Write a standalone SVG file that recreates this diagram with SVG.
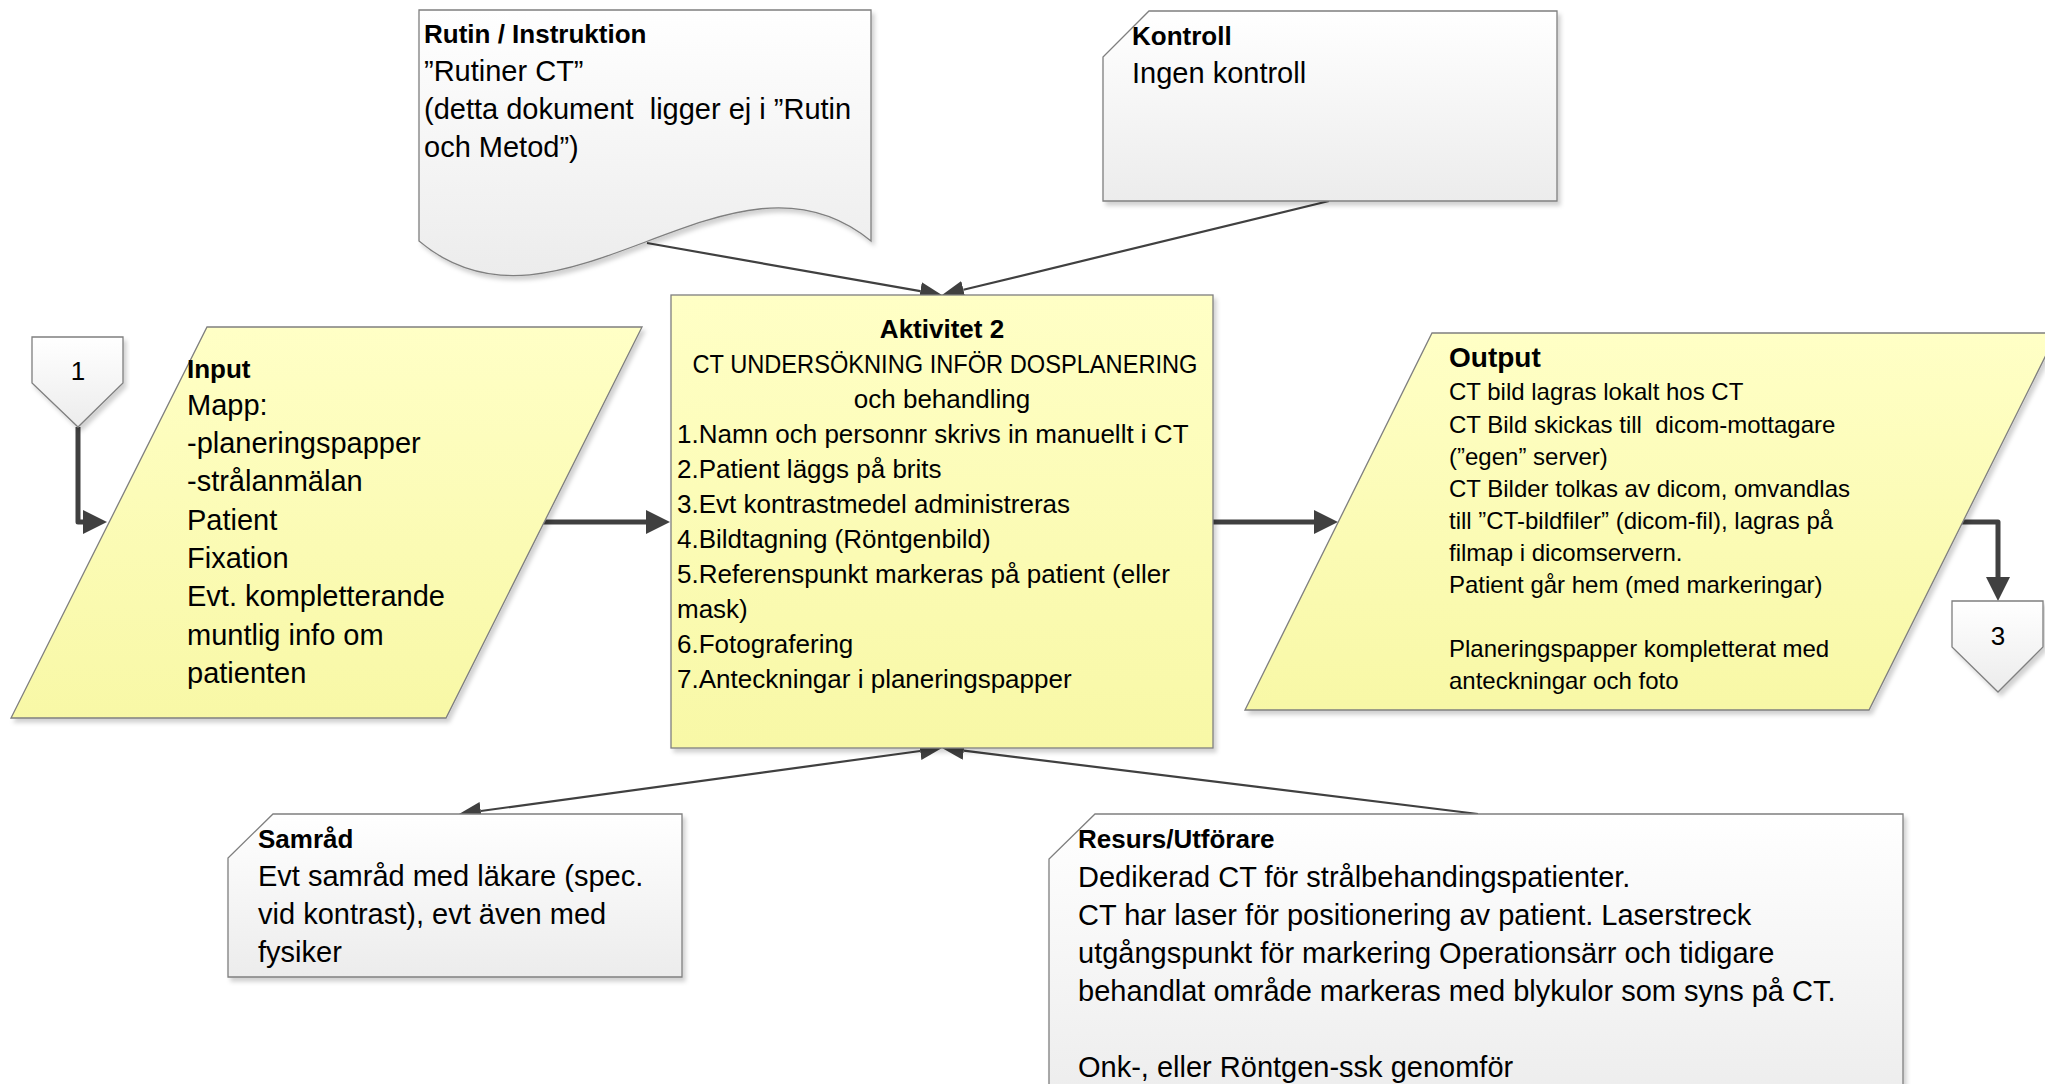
<svg xmlns="http://www.w3.org/2000/svg" width="2045" height="1084" viewBox="0 0 2045 1084">
  <defs>
    <linearGradient id="gGray" x1="0" y1="0" x2="0" y2="1">
      <stop offset="0" stop-color="#ffffff"/>
      <stop offset="1" stop-color="#ececec"/>
    </linearGradient>
    <linearGradient id="gYel" x1="0" y1="0" x2="0" y2="1">
      <stop offset="0" stop-color="#ffffc6"/>
      <stop offset="1" stop-color="#f8f8a6"/>
    </linearGradient>
    <filter id="sh" x="-5%" y="-5%" width="112%" height="115%">
      <feDropShadow dx="3" dy="4" stdDeviation="2" flood-color="#000" flood-opacity="0.18"/>
    </filter>
    <marker id="aThick" markerUnits="userSpaceOnUse" markerWidth="24" markerHeight="24" viewBox="0 0 24 24" refX="0" refY="12" orient="auto">
      <path d="M0,0 L24,12 L0,24 Z" fill="#404040"/>
    </marker>
    <marker id="aThin" markerUnits="userSpaceOnUse" markerWidth="22" markerHeight="18" viewBox="0 0 22 18" refX="0" refY="9" orient="auto-start-reverse">
      <path d="M0,0 L22,9 L0,18 Z" fill="#404040"/>
    </marker>
  </defs>
  <style>
    .shape { stroke: #7f7f7f; stroke-width: 1.3; filter: url(#sh); }
    .gray { fill: url(#gGray); }
    .yel { fill: url(#gYel); }
    text { font-family: 'Liberation Sans', Arial, sans-serif; fill: #000; }
    .t29 { font-size: 29px; }
    .t26 { font-size: 26px; }
    .t24 { font-size: 24px; }
    .hd { font-size: 26px; font-weight: bold; }
    .conn { stroke: #404040; fill: none; }
    .thin { stroke-width: 2.2; marker-end: url(#aThin); }
    .thick { stroke-width: 5; stroke-linejoin: round; marker-end: url(#aThick); }
    .mid { text-anchor: middle; }
  </style>

  <!-- connectors -->
  <g id="connectors">
    <path class="conn thin" d="M647,243 L920.3,291.2"/>
    <path class="conn thin" d="M1329,201 L963.4,289.8"/>
    <path class="conn thin" d="M1478,814 L963.8,750.7"/>
    <path class="conn thin" d="M480.8,811 L920.2,751" marker-start="url(#aThin)"/>
    <path class="conn thick" d="M78,427 V522 H83"/>
    <path class="conn thick" d="M541,522 H646"/>
    <path class="conn thick" d="M1213,522 H1314"/>
    <path class="conn thick" d="M1961,522 H1998 V577"/>
  </g>

  <!-- routine document -->
  <g id="rutin">
    <path class="shape gray" d="M419,10 H871 V241 C730,125 560,360 419,241 Z"/>
    <text class="hd" x="424" y="43">Rutin / Instruktion</text>
    <text class="t29" x="424" y="81">”Rutiner CT”</text>
    <text class="t29" x="424" y="119" xml:space="preserve">(detta dokument  ligger ej i ”Rutin</text>
    <text class="t29" x="424" y="157">och Metod”)</text>
  </g>

  <!-- control -->
  <g id="kontroll">
    <path class="shape gray" d="M1149,11 H1557 V201 H1103 V57 Z"/>
    <text class="hd" x="1132" y="45">Kontroll</text>
    <text class="t29" x="1132" y="83">Ingen kontroll</text>
  </g>

  <!-- off-page connector 1 -->
  <g id="ref1">
    <path class="shape gray" d="M32,337 H123 V383 L78,427 L32,383 Z"/>
    <text class="t26 mid" x="78" y="380">1</text>
  </g>

  <!-- input -->
  <g id="input">
    <path class="shape yel" d="M207,327 H642 L446,718 H11 Z"/>
    <text class="hd" x="187" y="378">Input</text>
    <text class="t29" x="187" y="415">Mapp:</text>
    <text class="t29" x="187" y="453">-planeringspapper</text>
    <text class="t29" x="187" y="491">-strålanmälan</text>
    <text class="t29" x="187" y="530">Patient</text>
    <text class="t29" x="187" y="568">Fixation</text>
    <text class="t29" x="187" y="606">Evt. kompletterande</text>
    <text class="t29" x="187" y="645">muntlig info om</text>
    <text class="t29" x="187" y="683">patienten</text>
  </g>

  <!-- activity -->
  <g id="aktivitet">
    <rect class="shape yel" x="671" y="295" width="542" height="453"/>
    <text class="hd mid" x="942" y="338">Aktivitet 2</text>
    <text class="t26 mid" x="945" y="373" textLength="505" lengthAdjust="spacingAndGlyphs">CT UNDERSÖKNING INFÖR DOSPLANERING</text>
    <text class="t26 mid" x="942" y="408">och behandling</text>
    <text class="t26" x="677" y="443">1.Namn och personnr skrivs in manuellt i CT</text>
    <text class="t26" x="677" y="478">2.Patient läggs på brits</text>
    <text class="t26" x="677" y="513">3.Evt kontrastmedel administreras</text>
    <text class="t26" x="677" y="548">4.Bildtagning (Röntgenbild)</text>
    <text class="t26" x="677" y="583">5.Referenspunkt markeras på patient (eller</text>
    <text class="t26" x="677" y="618">mask)</text>
    <text class="t26" x="677" y="653">6.Fotografering</text>
    <text class="t26" x="677" y="688">7.Anteckningar i planeringspapper</text>
  </g>

  <!-- output -->
  <g id="output">
    <path class="shape yel" d="M1432,333 H2057 L1869,710 H1245 Z"/>
    <text x="1449" y="367" style="font-size:28px;font-weight:bold">Output</text>
    <text class="t24" x="1449" y="400">CT bild lagras lokalt hos CT</text>
    <text class="t24" x="1449" y="433" xml:space="preserve">CT Bild skickas till  dicom-mottagare</text>
    <text class="t24" x="1449" y="465">(”egen” server)</text>
    <text class="t24" x="1449" y="497">CT Bilder tolkas av dicom, omvandlas</text>
    <text class="t24" x="1449" y="529">till ”CT-bildfiler” (dicom-fil), lagras på</text>
    <text class="t24" x="1449" y="561">filmap i dicomservern.</text>
    <text class="t24" x="1449" y="593">Patient går hem (med markeringar)</text>
    <text class="t24" x="1449" y="657">Planeringspapper kompletterat med</text>
    <text class="t24" x="1449" y="689">anteckningar och foto</text>
  </g>

  <!-- off-page connector 3 -->
  <g id="ref3">
    <path class="shape gray" d="M1952,601 H2043 V647 L1998,692 L1952,647 Z"/>
    <text class="t26 mid" x="1998" y="645">3</text>
  </g>

  <!-- consultation -->
  <g id="samrad">
    <path class="shape gray" d="M273,814 H682 V977 H228 V858 Z"/>
    <text class="hd" x="258" y="848">Samråd</text>
    <text class="t29" x="258" y="886">Evt samråd med läkare (spec.</text>
    <text class="t29" x="258" y="924">vid kontrast), evt även med</text>
    <text class="t29" x="258" y="962">fysiker</text>
  </g>

  <!-- resource / performer -->
  <g id="resurs">
    <path class="shape gray" d="M1095,814 H1903 V1110 H1049 V859 Z"/>
    <text class="hd" x="1078" y="848">Resurs/Utförare</text>
    <text class="t29" x="1078" y="887">Dedikerad CT för strålbehandingspatienter.</text>
    <text class="t29" x="1078" y="925">CT har laser för positionering av patient. Laserstreck</text>
    <text class="t29" x="1078" y="963">utgångspunkt för markering Operationsärr och tidigare</text>
    <text class="t29" x="1078" y="1001">behandlat område markeras med blykulor som syns på CT.</text>
    <text class="t29" x="1078" y="1077">Onk-, eller Röntgen-ssk genomför</text>
  </g>
</svg>
